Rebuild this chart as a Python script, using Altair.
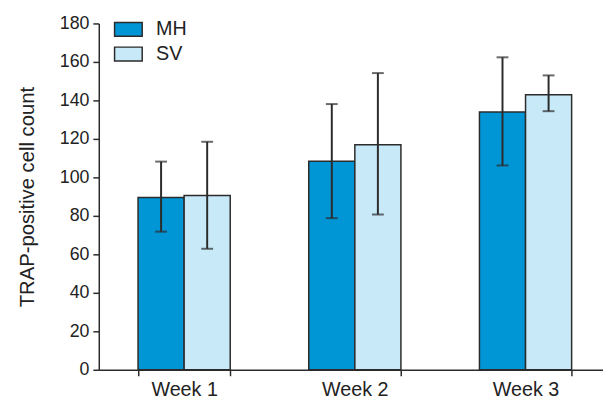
import altair as alt
import pandas as pd

weeks = ["Week 1", "Week 2", "Week 3"]
groups = ["MH", "SV"]
mh_mean = [89.6, 108.4, 134.0]
mh_low = [71.8, 78.8, 106.2]
mh_high = [108.2, 138.1, 162.4]
sv_mean = [90.6, 116.9, 142.9]
sv_low = [62.9, 80.7, 134.4]
sv_high = [118.5, 154.2, 153.0]
y_ticks = [0, 20, 40, 60, 80, 100, 120, 140, 160, 180]

rows = []
for i, w in enumerate(weeks):
    rows.append({"week": w, "group": "MH", "mean": mh_mean[i], "low": mh_low[i], "high": mh_high[i]})
    rows.append({"week": w, "group": "SV", "mean": sv_mean[i], "low": sv_low[i], "high": sv_high[i]})
df = pd.DataFrame(rows)

FONT = "Liberation Sans"
DARK = "#2b2b2b"
YTITLE = "TRAP-positive cell count"

xaxis = alt.Axis(labelAngle=0, tickBand="extent", tickSize=6, labelPadding=4,
                 labelFontSize=20, labelFont=FONT, labelColor="#222", labelOverlap=False,
                 domainColor=DARK, tickColor=DARK, domainWidth=1.5, tickWidth=1.5)
yaxis = alt.Axis(values=y_ticks, grid=False, tickSize=6, labelPadding=4,
                 labelFontSize=18, labelFont=FONT, labelColor="#222", labelOverlap=False,
                 labelFlush=False,
                 titleFontSize=20.5, titleFont=FONT, titleColor="#222", titleFontWeight="normal",
                 titlePadding=22,
                 domainColor=DARK, tickColor=DARK, domainWidth=1.5, tickWidth=1.5)
yscale = alt.Scale(domain=[0, 180], nice=False)

x = alt.X("week:N", sort=weeks, title=None,
          scale=alt.Scale(paddingInner=0.46, paddingOuter=0.23), axis=xaxis)
xo = alt.XOffset("group:N", sort=groups, scale=alt.Scale(paddingInner=0, paddingOuter=0))

color = alt.Color("group:N", sort=groups,
                  scale=alt.Scale(domain=groups, range=["#0096D6", "#C8E9F8"]),
                  legend=alt.Legend(title=None, orient="none", legendX=15, legendY=-9,
                                    symbolType="M-1,-0.5H1V0.5H-1Z", symbolSize=784,
                                    symbolStrokeColor=DARK, symbolStrokeWidth=1.5,
                                    labelFontSize=20, labelFont=FONT, labelColor="#222",
                                    labelOffset=13, rowPadding=0, padding=0, symbolOffset=0))

bars = alt.Chart(df).mark_bar(stroke=DARK, strokeWidth=1.5).encode(
    x=x, xOffset=xo, y=alt.Y("mean:Q", title=YTITLE, scale=yscale, axis=yaxis), color=color)

rules = alt.Chart(df).mark_rule(color=DARK, strokeWidth=2).encode(
    x=x, xOffset=xo, y=alt.Y("low:Q", title=YTITLE, scale=yscale, axis=yaxis), y2="high:Q")

caps_hi = alt.Chart(df).mark_tick(color=DARK, thickness=2, size=12).encode(
    x=x, xOffset=xo, y=alt.Y("high:Q", title=YTITLE, scale=yscale, axis=yaxis))
caps_lo = alt.Chart(df).mark_tick(color=DARK, thickness=2, size=12).encode(
    x=x, xOffset=xo, y=alt.Y("low:Q", title=YTITLE, scale=yscale, axis=yaxis))

chart = alt.layer(bars, rules, caps_hi, caps_lo).properties(
    width=519, height=351,
    background="white",
    autosize=alt.AutoSizeParams(type="none"),
    padding={"left": 92, "top": 13, "right": -8, "bottom": 31},
).configure_view(stroke=None)

chart.save("out.html", embed_options={"renderer": "svg", "actions": False})
